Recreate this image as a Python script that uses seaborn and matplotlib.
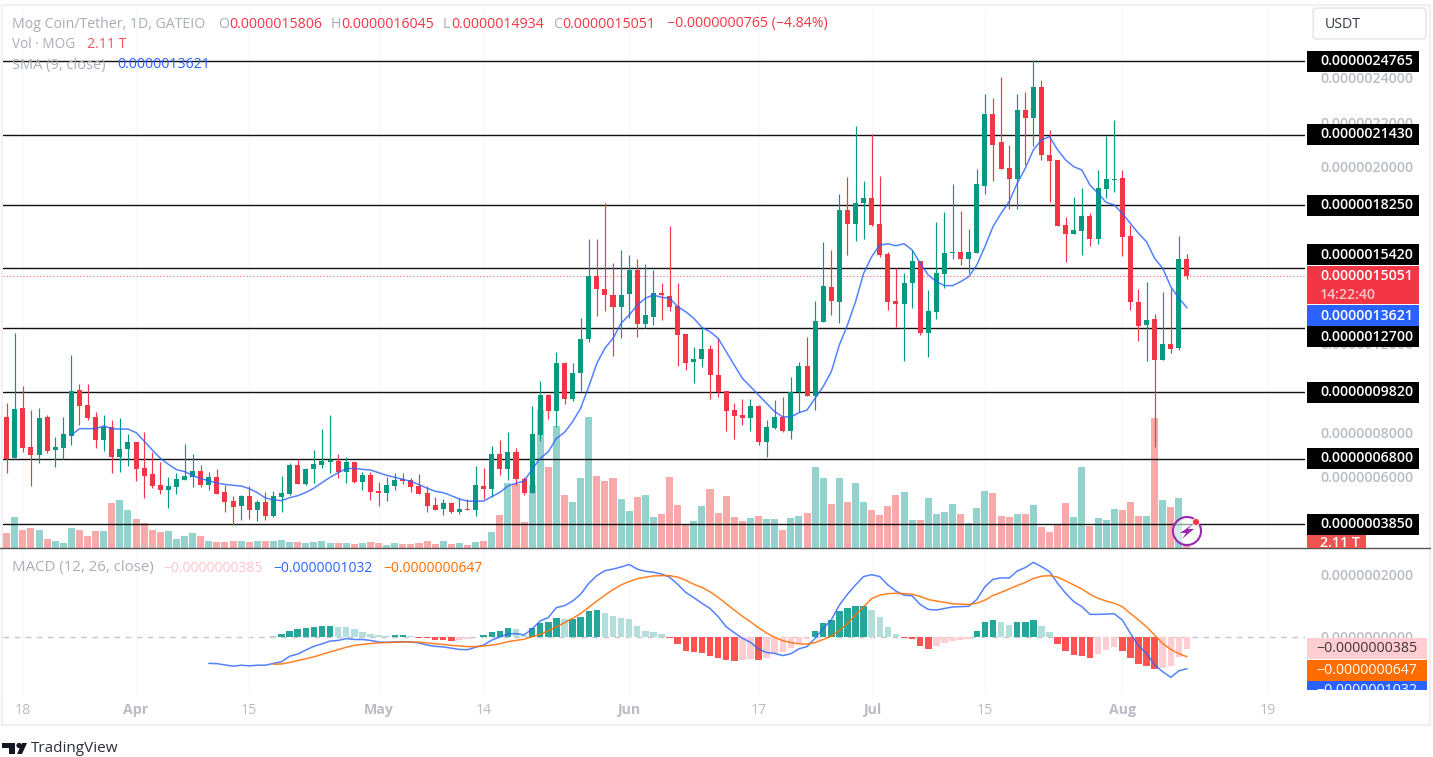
import numpy as np
import pandas as pd
import matplotlib
matplotlib.use("Agg")
import matplotlib.pyplot as plt
from matplotlib.patches import Rectangle, Polygon, FancyBboxPatch
import seaborn as sns

# ---- data (prices and MACD in units of 1e-7 USDT, volume in T) ----
opens = [8.69,6.82,9.09,7.32,6.97,8.69,7.18,7.29,7.84,9.92,
         9.23,8.69,7.65,8.22,6.88,7.24,7.54,6.40,6.13,5.61,
         5.39,5.54,5.86,5.99,6.26,5.63,5.99,5.30,4.89,4.67,
         5.12,4.49,4.85,4.21,5.09,5.21,6.50,5.66,6.32,6.50,
         6.67,6.71,6.22,6.67,5.77,6.07,5.34,5.27,5.58,5.87,
         5.84,5.58,5.27,4.71,4.53,4.80,4.38,4.53,4.49,5.57,
         5.45,7.00,6.32,7.09,5.87,5.27,7.87,9.68,8.97,11.14,
         9.50,10.69,12.21,15.07,14.48,14.20,13.67,14.23,15.31,12.90,
         13.22,14.30,14.15,13.70,12.42,11.17,11.30,11.74,10.60,9.86,
         9.00,8.78,8.64,9.18,7.56,8.17,8.69,8.06,9.80,10.97,
         9.65,12.99,14.57,13.86,18.03,17.42,18.34,18.59,17.40,16.05,
         13.92,13.80,14.72,15.72,12.49,13.44,15.14,16.10,16.14,15.82,
         16.11,19.12,22.39,21.10,19.93,19.42,22.57,22.20,23.57,20.52,
         20.29,17.36,16.95,17.08,17.78,16.72,18.98,19.39,19.46,16.86,
         13.88,12.84,13.11,11.24,11.97,11.82,15.806]
closes = [6.79,9.05,7.27,6.95,8.64,7.15,7.32,7.90,9.86,9.20,
          8.63,7.65,8.22,6.88,7.26,7.54,6.32,6.04,5.58,5.39,
          5.57,5.90,6.02,6.26,5.61,5.99,5.22,4.85,4.62,5.12,
          4.49,4.85,4.21,5.12,5.25,6.50,5.67,6.35,6.55,6.71,
          6.74,6.22,6.67,5.77,6.07,5.31,5.27,5.61,5.84,5.79,
          5.54,5.22,4.67,4.49,4.80,4.38,4.53,4.49,5.61,5.45,
          7.00,6.32,7.09,5.87,5.27,7.92,9.68,8.97,11.14,9.50,
          10.69,12.19,15.07,14.45,14.18,13.67,14.20,15.31,12.90,13.28,
          14.29,14.18,13.67,12.41,11.12,11.29,11.74,10.57,9.80,8.97,
          8.73,8.64,9.18,7.56,8.22,8.69,8.05,9.80,10.97,9.65,
          13.02,14.62,13.91,18.03,17.42,18.37,18.59,17.36,16.00,13.90,
          13.80,14.75,15.72,12.46,13.47,15.17,16.08,16.15,15.82,16.14,
          19.19,22.39,20.99,19.89,19.42,22.57,22.20,23.57,20.52,20.26,
          17.33,16.95,17.12,17.78,16.72,19.01,19.42,19.42,16.83,13.86,
          12.80,13.07,11.24,11.98,11.76,15.81,15.051]
highs = [9.30,12.46,10.10,9.00,9.08,8.78,7.77,8.67,11.47,10.19,
         10.19,8.90,8.78,8.55,8.63,7.90,7.54,7.99,7.09,6.67,
         5.99,6.14,7.45,7.00,6.50,6.22,6.35,5.61,5.13,5.17,
         5.58,4.94,5.31,5.34,6.02,6.59,6.77,6.37,7.18,8.13,
         8.76,7.00,6.87,6.67,6.22,6.22,5.74,5.96,6.14,6.14,
         5.92,6.10,5.57,5.09,4.98,4.86,5.01,4.98,6.49,6.37,
         7.38,7.65,7.99,7.27,5.96,9.18,10.33,9.72,11.64,11.18,
         11.14,13.14,16.71,16.71,18.37,15.63,16.21,15.99,15.81,15.58,
         15.31,14.75,17.31,14.75,12.42,11.83,12.69,11.94,12.24,9.86,
         9.30,9.50,9.50,9.23,8.55,9.45,9.60,10.51,11.15,12.30,
         13.92,16.60,16.23,18.74,19.51,21.83,19.34,21.45,19.56,16.15,
         15.43,15.17,16.23,15.72,14.42,17.49,17.95,19.19,17.99,17.16,
         19.87,23.26,23.08,24.03,20.97,23.26,23.35,24.81,23.91,21.65,
         20.29,17.73,18.64,19.01,17.88,19.84,21.38,22.11,19.84,17.36,
         14.45,14.77,13.34,14.35,14.50,16.86,16.045]
lows = [6.17,6.82,7.09,5.59,6.59,7.04,6.44,6.79,7.41,8.32,
        8.55,7.27,7.13,6.14,6.22,6.49,5.81,5.04,5.49,5.21,
        4.59,5.21,5.84,5.54,5.54,5.39,5.22,4.41,3.81,4.03,
        4.08,3.99,4.03,4.18,4.39,5.16,5.67,5.62,5.72,6.37,
        6.14,5.92,5.69,5.72,5.39,4.94,4.67,4.89,5.39,5.66,
        5.30,5.21,4.39,4.49,4.26,4.37,4.30,4.49,4.23,4.97,
        5.09,6.07,5.84,5.61,5.16,5.27,7.61,8.60,8.22,9.26,
        9.42,9.87,12.09,13.25,13.49,11.44,12.27,13.14,12.31,12.69,
        12.84,13.07,13.49,10.99,10.79,10.24,10.93,9.51,9.60,8.07,
        7.68,8.32,8.05,7.42,6.86,8.13,8.00,7.69,8.93,9.65,
        9.00,12.99,13.29,12.94,16.00,16.65,16.72,17.33,15.90,13.50,
        12.77,11.21,13.60,12.39,11.40,13.13,14.50,15.82,15.55,15.17,
        16.11,18.74,19.33,19.89,18.08,18.08,20.07,20.92,20.29,18.41,
        17.33,15.69,16.95,16.00,16.41,16.50,18.56,18.86,15.96,13.50,
        12.12,11.21,7.35,11.24,11.56,11.71,14.934]
volume = [10.3,21.5,12.6,14.0,12.6,6.1,4.7,3.3,14.0,12.6,
          8.2,11.9,11.9,31.5,33.6,26.6,20.0,17.5,12.6,11.2,
          11.9,6.1,8.2,10.3,8.2,4.7,4.0,4.0,4.7,4.7,
          4.0,4.7,4.7,4.7,5.4,4.0,4.0,3.3,4.0,4.7,
          3.3,3.3,3.3,2.6,3.3,4.0,3.3,2.3,3.3,2.6,
          2.6,3.3,4.7,2.6,4.7,2.6,3.3,2.1,4.0,4.7,
          11.0,23.0,45.7,45.0,18.2,44.0,96.6,56.5,85.4,37.0,
          32.2,49.2,91.7,50.6,47.1,49.2,34.3,25.9,35.7,37.1,
          21.7,23.8,49.5,30.1,16.8,18.9,29.4,41.5,24.5,36.4,
          21.7,18.9,21.0,22.4,20.3,20.3,12.6,21.0,22.4,24.5,
          56.5,49.2,30.8,49.2,32.2,45.7,32.2,26.6,23.1,29.4,
          37.1,39.2,19.6,19.6,35.0,23.8,25.2,30.8,23.8,17.3,
          28.0,39.9,38.5,22.4,21.7,23.8,23.8,30.1,14.7,11.2,
          16.6,31.5,21.7,56.5,15.4,21.0,19.6,27.3,26.6,32.2,
          22.4,22.4,91.0,33.6,28.7,35.0,2.11]
sma9_start = 8
sma9 = [7.87,8.16,8.16,8.16,8.28,8.16,8.14,8.14,7.98,7.60,7.20,6.82,6.55,6.31,6.22,6.05,5.90,5.81,
        5.70,5.64,5.60,5.57,5.45,5.27,5.03,4.94,4.91,5.04,5.13,5.28,5.47,5.72,5.96,6.17,6.35,6.37,
        6.32,6.29,6.17,6.05,5.96,5.87,5.78,5.63,5.47,5.33,5.27,5.13,4.98,4.89,4.88,4.89,5.09,5.28,
        5.57,5.69,5.79,6.32,6.82,7.12,7.72,7.99,8.47,9.08,10.06,11.11,11.79,12.24,12.92,13.29,13.74,
        14.05,14.20,14.09,14.05,13.67,13.44,13.14,12.73,12.54,12.24,11.64,11.03,10.43,10.06,9.68,
        9.30,8.93,8.69,8.69,8.88,9.00,9.53,10.06,10.73,11.94,
        12.84,13.89,15.17,15.93,16.45,16.51,16.42,16.51,16.23,15.63,15.10,14.80,14.62,14.62,14.80,
        15.02,15.55,16.38,17.28,17.88,18.41,19.24,19.92,20.75,21.20,21.35,20.75,20.29,19.99,19.84,
        19.16,18.79,18.38,18.26,17.88,17.43,16.98,16.60,15.85,15.40,14.57,14.05,13.621]
macd_start = 25
macd_line = [-0.86,-0.87,-0.91,-0.95,-0.92,-0.94,-0.92,-0.92,-0.86,-0.81,-0.63,-0.56,-0.43,-0.31,-0.23,-0.14,
             -0.12,-0.06,-0.09,-0.09,-0.12,-0.17,-0.18,-0.17,-0.16,-0.17,-0.20,-0.27,-0.31,-0.33,-0.37,-0.41,
             -0.42,-0.34,-0.27,-0.11,-0.01,0.09,0.10,0.06,0.25,0.51,0.62,0.94,1.00,1.15,1.37,1.72,1.97,2.13,
             2.18,2.25,2.33,2.18,2.11,2.08,2.02,1.92,1.69,1.43,1.26,
             1.08,0.91,0.65,0.32,0.13,-0.05,-0.18,-0.40,-0.51,-0.54,-0.61,-0.55,-0.39,-0.32,-0.05,0.27,0.54,
             1.02,1.37,1.67,1.94,2.00,1.94,1.67,1.47,1.34,1.32,1.04,0.88,0.86,0.91,0.96,0.97,0.98,1.20,1.61,
             1.85,1.90,1.89,2.12,2.23,2.40,2.26,2.10,1.72,1.40,1.13,0.97,0.72,0.72,0.73,0.74,0.54,0.11,-0.29,
             -0.54,-0.91,-1.13,-1.31,-1.10,-1.032]
signal_start = 33
signal_line = [-0.89,-0.88,-0.83,-0.77,-0.71,-0.65,-0.57,-0.49,-0.42,-0.34,-0.28,-0.25,-0.22,-0.20,-0.19,-0.18,
               -0.17,-0.17,-0.18,-0.20,-0.23,-0.25,-0.28,-0.30,-0.32,-0.32,-0.30,-0.27,-0.23,-0.16,-0.12,-0.08,
               0.00,0.08,0.19,0.32,0.45,0.59,0.75,0.95,1.15,1.34,1.52,1.67,1.78,1.87,1.92,1.96,1.97,1.97,1.92,
               1.82,1.69,
               1.59,1.45,1.27,1.06,0.86,0.66,0.48,0.29,0.12,-0.02,-0.13,-0.19,-0.23,-0.24,-0.19,-0.09,0.02,0.20,
               0.43,0.70,0.97,1.23,1.34,1.39,1.40,1.39,1.37,1.30,1.20,1.15,1.11,1.06,1.05,1.04,1.08,1.18,1.33,
               1.43,1.54,1.65,1.75,1.88,1.95,1.97,1.92,1.80,1.67,1.54,1.37,1.24,1.15,1.08,0.97,0.75,0.54,0.32,
               0.05,-0.22,-0.41,-0.55,-0.647]
macd_hist = [0.03,0.10,0.19,0.24,0.27,0.30,0.33,0.34,0.31,0.30,0.24,0.16,0.10,0.04,0.03,0.04,0.045,0.03,
             -0.04,-0.05,-0.10,-0.12,-0.13,-0.11,-0.09,-0.02,0.04,0.16,0.20,0.27,0.24,0.05,0.27,0.43,0.46,
             0.59,0.57,0.58,0.62,0.83,0.86,0.78,0.66,0.61,0.57,0.33,0.20,0.14,0.08,-0.05,-0.22,-0.47,-0.50,
             -0.51,-0.61,-0.68,-0.74,-0.77,-0.76,-0.71,-0.74,-0.68,-0.51,-0.50,-0.35,-0.20,-0.06,
             0.17,0.43,0.53,0.83,0.91,0.99,0.995,0.86,0.62,0.30,0.08,-0.05,-0.06,-0.29,-0.39,-0.29,-0.19,
             -0.13,-0.10,-0.09,0.17,0.46,0.53,0.49,0.37,0.46,0.47,0.53,0.33,0.14,-0.22,-0.45,-0.58,-0.61,
             -0.68,-0.55,-0.42,-0.34,-0.45,-0.68,-0.87,-0.94,-1.03,-1.00,-0.94,-0.65,-0.385]
levels = [24.765, 21.43, 18.25, 15.42, 12.70, 9.82, 6.80, 3.85]
level_label_y = [61, 134, 205, 254.5, 336.5, 392.5, 458.5, 524.5]
price_ticks = [6, 8, 12, 20, 22, 24]
macd_ticks = [0, 2]
x_tick_idx = [2, 16, 30, 46, 59, 77, 93, 107, 121, 138, 156]
x_tick_labels = ["18", "Apr", "15", "May", "14", "Jun", "17", "Jul", "15", "Aug", "19"]
x_tick_bold = ["Apr", "May", "Jun", "Jul", "Aug"]
last_price = 15.051
sma_value = 13.621
hist_value, signal_value, macd_value = -0.385, -0.647, -1.032

# ---- style ----
W, H = 1433, 757
sns.set_theme(style="white")
FONT = ["Open Sans", "DejaVu Sans"]
plt.rcParams["font.family"] = FONT
GREEN, RED = "#089981", "#f23645"
VGREEN, VRED = "#94d3cd", "#f8a9a9"
GREY = "#b9bcc4"
BLUE, ORANGE = "#2962ff", "#ff6d00"
fs = 10.2

fig = plt.figure(figsize=(W / 100, H / 100), dpi=100, facecolor="white")


def rect(x0, y0, x1, y1):
    return [x0 / W, 1 - y1 / H, (x1 - x0) / W, (y1 - y0) / H]


def fx(x):
    return x / W


def fy(y):
    return 1 - y / H


def box(x0, y0, x1, y1, fc, ec="none", lw=0, z=5):
    r = Rectangle((fx(x0), fy(y1)), (x1 - x0) / W, (y1 - y0) / H, transform=fig.transFigure,
                  facecolor=fc, edgecolor=ec, linewidth=lw, zorder=z)
    fig.add_artist(r)
    return r


def label(x, y, s, color, size=fs, ha="left", weight="normal", z=6, **kw):
    return fig.text(fx(x), fy(y), s, color=color, fontsize=size, ha=ha, va="center",
                    fontweight=weight, zorder=z, **kw)


ax_vol = fig.add_axes(rect(3, 8, 1305, 548), zorder=1)
ax_p = fig.add_axes(rect(3, 8, 1305, 548), zorder=2, sharex=ax_vol)
ax_m = fig.add_axes(rect(3, 549, 1305, 695), zorder=2, sharex=ax_vol)
ax_p.patch.set_alpha(0)

idx = np.arange(len(closes))
xmin, xmax = -0.458, 160.6

# volume
vol_df = pd.DataFrame({"i": idx, "vol": volume,
                       "dir": np.where(np.array(closes) >= np.array(opens), "up", "down")})
sns.barplot(data=vol_df, x="i", y="vol", hue="dir", palette={"up": VGREEN, "down": VRED},
            native_scale=True, dodge=False, width=0.87, saturation=1, legend=False,
            linewidth=0, ax=ax_vol)
ax_vol.set_ylim(0, 378)

# levels and last price
for lv in levels:
    ax_p.axhline(lv, color="#111111", lw=1.0, zorder=1)
ax_p.axhline(last_price, color=RED, lw=0.8, ls=(0, (1, 2)), alpha=0.75, zorder=1)

# candles
o, c, h, l = map(np.array, (opens, closes, highs, lows))
cols = np.where(c >= o, GREEN, RED)
ax_p.vlines(idx, l, h, colors=cols, lw=0.85, zorder=2)
ax_p.bar(idx, np.abs(c - o), bottom=np.minimum(c, o), width=0.62, color=cols, linewidth=0, zorder=3)

# SMA
sns.lineplot(x=np.arange(len(sma9)) + sma9_start, y=sma9, color=BLUE, lw=1.1, alpha=0.8,
             errorbar=None, ax=ax_p, zorder=4)

# MACD pane
hist = np.array(macd_hist)
hist_idx = np.arange(len(hist)) + signal_start
prev = np.r_[np.inf, hist[:-1]]
kind = np.where(hist >= 0, np.where(hist > prev, "up_strong", "up_weak"),
                np.where(hist < prev, "down_strong", "down_weak"))
hist_df = pd.DataFrame({"i": hist_idx, "h": hist, "kind": kind})
sns.barplot(data=hist_df, x="i", y="h", hue="kind",
            palette={"up_strong": "#26a69a", "up_weak": "#b2dfdb", "down_strong": "#ff5252", "down_weak": "#ffcdd2"},
            native_scale=True, dodge=False, width=0.8, saturation=1, legend=False, linewidth=0, ax=ax_m)
ax_m.axhline(0, color="#c4c6cc", lw=1.0, ls=(0, (4, 4)), zorder=0)
sns.lineplot(x=np.arange(len(macd_line)) + macd_start, y=macd_line, color=BLUE, lw=1.1, alpha=0.8,
             errorbar=None, ax=ax_m, zorder=4)
sns.lineplot(x=np.arange(len(signal_line)) + signal_start, y=signal_line, color=ORANGE, lw=1.1, alpha=0.85,
             errorbar=None, ax=ax_m, zorder=4)

# axes furniture
ax_vol.set_xlim(xmin, xmax)
for a in (ax_vol, ax_p, ax_m):
    a.set_xlabel("")
    a.set_ylabel("")
    for s in a.spines.values():
        s.set_visible(False)
ax_vol.set_yticks([])
ax_vol.tick_params(bottom=False, labelbottom=False)
ax_p.tick_params(bottom=False, labelbottom=False)
for a, ticks in ((ax_p, price_ticks), (ax_m, macd_ticks)):
    a.yaxis.tick_right()
    a.set_yticks(ticks)
    a.set_yticklabels([f"{v * 1e-7:.10f}" for v in ticks], color=GREY, fontsize=fs, fontweight="semibold")
    a.tick_params(axis="y", length=0, pad=11)
ax_p.set_ylim(24.765 - (548 - 61) / 22.14, 24.765 + (61 - 8) / 22.14)
ax_m.set_ylim((636.7 - 695) / 31, (636.7 - 549) / 31)
ax_m.set_xticks(x_tick_idx)
ax_m.set_xticklabels(x_tick_labels, color=GREY, fontsize=fs)
for t in ax_m.get_xticklabels():
    if t.get_text() in x_tick_bold:
        t.set_fontweight("bold")
ax_m.tick_params(axis="x", length=0, pad=6, bottom=True, labelbottom=True)
for a in (ax_vol, ax_m):
    for xt in x_tick_idx:
        a.axvline(xt, color="#f7f8fb", lw=1, zorder=0)

# frame, separators
box(2, 5, 1430, 725, "none", ec="#eef0f6", lw=1.6, z=1)
fig.add_artist(plt.Line2D([0, 1430 / W], [fy(548), fy(548)], color="#555555", lw=1.0, zorder=4))

# right-hand price labels
for lv, ly in zip(levels, level_label_y):
    box(1307, ly - 10.5, 1419, ly + 10.5, "black", z=5 if lv not in (15.42, 12.70) else 7)
    label(1320, ly, f"{lv * 1e-7:.10f}", "white", weight="semibold",
          z=6 if lv not in (15.42, 12.70) else 8)
box(1307, 266, 1419, 304, RED, z=6)
label(1320, 276, f"{last_price * 1e-7:.10f}", "white", weight="semibold", z=7)
label(1320, 295, "14:22:40", "#ffc4c8", weight="semibold", z=7)
box(1307, 305, 1419, 326, BLUE, z=6)
label(1320, 315.5, f"{sma_value * 1e-7:.10f}", "white", weight="semibold", z=7)
vb = box(1307, 535, 1366, 547.5, "#ef5350", z=6)
tv = label(1320, 543, "2.11 T", "white", weight="semibold", z=7)
tv.set_clip_path(vb)
box(1307, 638, 1427, 659, "#ffcdd2", z=6)
label(1367, 648.5, f"\u2212{abs(hist_value) * 1e-7:.10f}", "#3a3438", ha="center", z=7)
box(1307, 660, 1427, 681, ORANGE, z=6)
label(1367, 670.5, f"\u2212{abs(signal_value) * 1e-7:.10f}", "white", ha="center", z=7)
bb = box(1307, 681, 1427, 690, BLUE, z=6)
tb = label(1367, 691, f"\u2212{abs(macd_value) * 1e-7:.10f}", "white", ha="center", z=7)
tb.set_clip_path(bb)

# USDT button
fig.add_artist(FancyBboxPatch((fx(1316), fy(36)), 107 / W, 25 / H, boxstyle="round,pad=0.002",
                              transform=fig.transFigure, fc="white", ec="#e0e3eb", lw=1.0, zorder=5,
                              mutation_aspect=W / H))
label(1325, 24, "USDT", "#333a47", size=fs, z=6)

# legends
LG = "#a9adb8"
label(12, 24, "Mog Coin/Tether, 1D, GATEIO", LG)
for hx, vx, head, val in ((218, 229, "O", "0.0000015806"), (331, 341, "H", "0.0000016045"),
                          (443, 451, "L", "0.0000014934"), (553, 562, "C", "0.0000015051")):
    label(hx, 24, head, LG)
    label(vx, 24, val, RED)
label(667, 24, "\u22120.0000000765 (\u22124.84%)", RED)
label(12, 44, "Vol \u00b7 MOG", LG, size=9.8)
label(87, 44, "2.11 T", "#f7525f")
label(12, 65, "SMA (9, close)", LG, size=10.5)
label(117, 65, "0.0000013621", BLUE)
label(12, 568, "MACD (12, 26, close)", LG, size=10.8)
label(163, 568, "\u22120.0000000385", "#ffc4cb", size=10)
label(273, 568, "\u22120.0000001032", BLUE, size=10)
label(383, 568, "\u22120.0000000647", ORANGE, size=10)

# execution badge
cx, cy = 1187, 531


def asp(x, y):
    return (fx(x), fy(y))


tt = np.linspace(0, 2 * np.pi, 80)
fig.add_artist(Polygon([asp(cx + 13 * np.cos(t), cy + 13 * np.sin(t)) for t in tt],
                       closed=True, transform=fig.transFigure, fc="white", alpha=0.55, ec="none", zorder=6))
fig.add_artist(plt.Line2D([fx(cx + 14 * np.cos(t)) for t in tt], [fy(cy + 14 * np.sin(t)) for t in tt],
                          color="#9c27b0", lw=1.5, zorder=7))
fig.add_artist(Polygon([asp(cx + 6, cy - 7), asp(cx - 7, cy + 2), asp(cx - 1, cy + 2), asp(cx - 5, cy + 8),
                        asp(cx + 7, cy - 2), asp(cx + 1, cy - 2)], closed=True, transform=fig.transFigure,
                       fc="#9c27b0", ec="none", zorder=7))
fig.add_artist(Polygon([asp(cx + 9 + 3.5 * np.cos(t), cy - 9 + 3.5 * np.sin(t)) for t in tt],
                       closed=True, transform=fig.transFigure, fc="#f23645", ec="white", lw=0.6, zorder=8))

# TradingView mark
fig.add_artist(Polygon([asp(2, 743), asp(15, 743), asp(15, 754), asp(9, 754), asp(9, 748), asp(2, 748)],
                       closed=True, transform=fig.transFigure, fc="#131722", ec="none", zorder=6))
fig.add_artist(Polygon([asp(19 + 2.6 * np.cos(t), 745.5 + 2.6 * np.sin(t)) for t in tt],
                       closed=True, transform=fig.transFigure, fc="#131722", ec="none", zorder=6))
fig.add_artist(Polygon([asp(17, 754), asp(22, 743), asp(27, 743), asp(22, 754)],
                       closed=True, transform=fig.transFigure, fc="#131722", ec="none", zorder=6))
label(31, 748, "TradingView", "#2a2e39", size=11)

fig.savefig("out.png", dpi=100, facecolor="white")
